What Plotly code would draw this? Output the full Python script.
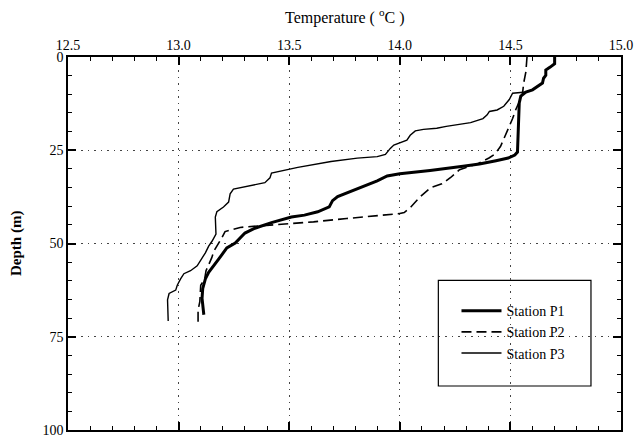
import plotly.graph_objects as go

# Temperature profiles (deg C) against depth (m) at three stations
p1_temp = [14.70, 14.70, 14.68, 14.66, 14.66, 14.65, 14.645, 14.62, 14.60, 14.57, 14.547, 14.54,
           14.537, 14.535, 14.532, 14.52, 14.49, 14.435, 14.36, 14.286, 14.21, 14.137, 14.0,
           13.943, 13.898, 13.838, 13.778, 13.719, 13.696, 13.681, 13.629, 13.569, 13.51, 13.42,
           13.345, 13.30, 13.256, 13.218, 13.181, 13.159, 13.136, 13.121, 13.109, 13.106, 13.11, 13.114]
p1_depth = [0, 1.8, 2.7, 3.5, 4.9, 5.7, 7.0, 7.9, 8.8, 9.4, 10.5, 12.3,
            18.0, 24.0, 25.5, 26.3, 27.1, 27.8, 28.7, 29.3, 29.9, 30.4, 31.3,
            31.9, 33.2, 34.6, 35.9, 37.4, 38.5, 40.2, 41.5, 42.4, 42.9, 44.4,
            45.9, 47.2, 49.9, 51.2, 54.2, 56.0, 57.7, 59.5, 62.1, 64.7, 67.0, 69.1]

p2_temp = [14.575, 14.57, 14.56, 14.555, 14.54, 14.525, 14.51, 14.49, 14.47, 14.455, 14.43, 14.405,
           14.37, 14.35, 14.30, 14.27, 14.23, 14.19, 14.14, 14.09, 14.05, 14.02, 13.995, 13.91,
           13.76, 13.61, 13.51, 13.40, 13.315, 13.278, 13.21, 13.195, 13.18, 13.16, 13.15, 13.136,
           13.124, 13.118, 13.10, 13.096, 13.088, 13.088]
p2_depth = [0, 4.0, 7.0, 9.7, 12.0, 14.0, 16.5, 19.5, 22.0, 24.0, 26.0, 27.0,
            28.0, 28.7, 29.6, 30.2, 32.3, 34.0, 35.0, 37.6, 40.2, 41.7, 42.0, 42.4,
            43.3, 44.2, 44.6, 45.0, 45.5, 45.7, 46.8, 48.5, 49.9, 52.0, 53.8, 55.5,
            57.3, 59.5, 61.2, 65.6, 67.8, 72.0]

p3_temp = [14.70, 14.70, 14.68, 14.66, 14.66, 14.65, 14.645, 14.62, 14.60, 14.57, 14.51, 14.495,
           14.47, 14.44, 14.405, 14.395, 14.376, 14.32, 14.256, 14.21, 14.167, 14.107, 14.07,
           14.047, 14.032, 14.002, 13.973, 13.957, 13.935, 13.898, 13.808, 13.689, 13.539, 13.42,
           13.413, 13.39, 13.315, 13.248, 13.233, 13.226, 13.203, 13.173, 13.166, 13.169, 13.151,
           13.136, 13.121, 13.099, 13.084, 13.054, 13.024, 13.009, 12.994, 12.987, 12.957, 12.95,
           12.95, 12.953]
p3_depth = [0, 1.8, 2.7, 3.5, 4.9, 5.7, 7.0, 7.9, 8.8, 9.4, 9.7, 11.4,
            13.2, 14.2, 14.6, 15.5, 16.5, 17.6, 18.1, 18.6, 19.1, 19.4, 19.8,
            21.0, 22.3, 23.0, 23.6, 24.5, 26.1, 26.7, 27.1, 28.0, 29.6, 31.1,
            32.4, 33.7, 34.6, 35.4, 36.7, 38.9, 40.2, 41.5, 42.9, 47.5, 49.4,
            50.7, 52.5, 54.7, 56.0, 57.3, 58.1, 59.5, 61.2, 62.5, 63.4, 65.1,
            68.2, 70.8]

temp_range = [12.5, 15.0]
depth_range = [100, 0]
temp_ticks = [12.5, 13.0, 13.5, 14.0, 14.5, 15.0]
depth_ticks = [0, 25, 50, 75, 100]

serif = "Liberation Serif, Times New Roman, serif"

fig = go.Figure()
# drawn thinnest first so the thick profile sits on top
fig.add_trace(go.Scatter(x=p3_temp, y=p3_depth, mode="lines", name="Station P3",
                         line=dict(color="black", width=1.4)))
fig.add_trace(go.Scatter(x=p2_temp, y=p2_depth, mode="lines", name="Station P2",
                         line=dict(color="black", width=1.6, dash="10px,5px")))
fig.add_trace(go.Scatter(x=p1_temp, y=p1_depth, mode="lines", name="Station P1",
                         line=dict(color="black", width=3)))

frame = dict(showline=True, linecolor="black", linewidth=1.6, mirror="allticks", zeroline=False,
             ticks="inside", ticklen=8, tickwidth=1.5, tickcolor="black",
             showgrid=True, gridcolor="#444444", gridwidth=1.2, griddash="1.5px,5px",
             tickfont=dict(family=serif, size=14, color="black"))

fig.update_layout(
    xaxis=dict(range=temp_range, side="top", tickvals=temp_ticks,
               ticktext=[f"{v:.1f}" for v in temp_ticks],
               minor=dict(dtick=0.1, ticks="inside", ticklen=4, tickwidth=1.4,
                          tickcolor="black", showgrid=False),
               **frame),
    yaxis=dict(range=depth_range, tickvals=depth_ticks,
               ticktext=[str(v) for v in depth_ticks],
               minor=dict(dtick=5, ticks="inside", ticklen=4, tickwidth=1.4,
                          tickcolor="black", showgrid=False),
               **frame),
)

# legend frame
fig.add_shape(type="rect", xref="paper", yref="paper",
              x0=0.6697, x1=0.9457, y0=0.118, y1=0.401,
              line=dict(color="black", width=1.2), fillcolor="white", layer="below")

fig.add_annotation(text="Temperature ( <sup>o</sup>C )", xref="paper", yref="paper",
                   x=0.5, y=1.0, yshift=28, showarrow=False, yanchor="bottom",
                   font=dict(family=serif, size=16, color="black"))
fig.add_annotation(text="<b>Depth (m)</b>", xref="paper", yref="paper",
                   x=0, xshift=-62, y=0.5, textangle=-90, showarrow=False,
                   font=dict(family=serif, size=15, color="black"))

fig.update_layout(
    width=641, height=446,
    margin=dict(l=68, r=15, t=57, b=8),
    paper_bgcolor="white", plot_bgcolor="white",
    showlegend=True,
    legend=dict(x=(460 - 68) / 558, y=(438 - 300) / 381.5, xanchor="left", yanchor="top",
                traceorder="reversed", itemwidth=40, bgcolor="rgba(0,0,0,0)", borderwidth=0,
                tracegroupgap=0, font=dict(family=serif, size=14, color="black")),
)

fig.write_html("out.html")
